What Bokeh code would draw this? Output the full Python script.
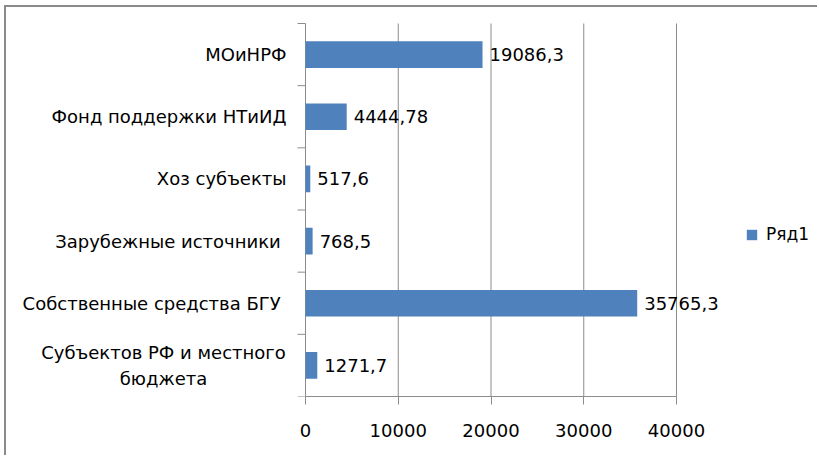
import math
from bokeh.plotting import figure
from bokeh.models import (ColumnDataSource, LabelSet, Label, Legend, LegendItem,
                          FixedTicker, Range1d)
from bokeh.core.properties import value
from bokeh.embed import file_html
from bokeh.resources import INLINE

# categories listed from bottom to top
categories = ["Субъектов РФ и местного\nбюджета", "Собственные средства  БГУ",
              "Зарубежные источники ", "Хоз субъекты", "Фонд поддержки НТиИД", "МОиНРФ"]
values = [1271.7, 35765.3, 768.5, 517.6, 4444.78, 19086.3]
x_ticks = [0, 10000, 20000, 30000, 40000]
series_name = "Ряд1"

FONT = "DejaVu Sans"
GRAY = "#8c8c8c"
BAR = "#4F81BD"

n = len(categories)
y_centers = [i + 0.5 for i in range(n)]
boundaries = list(range(n + 1))

# layout geometry (screen pixels inside the canvas)
W, H = 813, 450
axis_left_px = 299          # where x = 0 sits
axis_right_px = 670         # where x = 40000 sits
plot_top_px = 16            # top of the category band
frame_h = 389               # frame bottom = x axis position
xmax = x_ticks[-1]
ppx = (axis_right_px - axis_left_px) / xmax
x_start = -axis_left_px / ppx
x_end = (W - axis_left_px) / ppx
ppy = (frame_h - plot_top_px) / n
y_end = n + plot_top_px / ppy

p = figure(width=W, height=H, output_backend="svg", toolbar_location=None,
           x_range=Range1d(x_start, x_end), y_range=Range1d(0, y_end),
           y_axis_type=None, min_border_left=0, min_border_right=0,
           min_border_top=0, min_border_bottom=H - frame_h)
p.outline_line_color = None
p.background_fill_color = "white"
p.border_fill_color = "white"
p.xgrid.grid_line_color = None
p.ygrid.grid_line_color = None
# chart border (left and top) drawn round the canvas
p.styles = {"border-left": "2px solid #8a8a8a", "border-top": "2px solid #8a8a8a",
            "margin-left": "4px", "margin-top": "5px"}

# vertical grid lines
p.segment(x0=x_ticks[1:], y0=0, x1=x_ticks[1:], y1=n, line_color=GRAY, line_width=1)
# category axis line and boundary ticks
p.segment(x0=0, y0=0, x1=0, y1=n, line_color=GRAY, line_width=1)
p.ray(x=0, y=boundaries, length=8, length_units="screen", angle=math.pi,
      line_color=GRAY, line_width=1)

src = ColumnDataSource(dict(y=y_centers, v=values,
                            vt=[str(v).replace(".", ",") for v in values]))
bars = p.hbar(y="y", left=0, right="v", height=0.43, source=src,
              fill_color=BAR, line_color=None)

# x axis
xa = p.xaxis[0]
xa.bounds = (0, xmax)
xa.ticker = FixedTicker(ticks=x_ticks)
xa.axis_line_color = GRAY
xa.major_tick_line_color = GRAY
xa.major_tick_out = 8
xa.major_tick_in = 0
xa.minor_tick_line_color = None
xa.major_label_text_font = FONT
xa.major_label_text_font_size = "18px"
xa.major_label_text_color = "black"
xa.major_label_standoff = 19

# value labels
p.add_layout(LabelSet(x="v", y="y", text="vt", source=src, x_offset=7, y_offset=0,
                      text_font=value(FONT), text_font_size=value("18px"),
                      text_color="black", text_baseline="middle", text_align="left"))

# category labels
single = [(c, y) for c, y in zip(categories, y_centers) if "\n" not in c]
multi = [(c, y) for c, y in zip(categories, y_centers) if "\n" in c]
csrc = ColumnDataSource(dict(t=[c for c, _ in single], y=[y for _, y in single],
                             x=[0] * len(single)))
p.add_layout(LabelSet(x="x", y="y", text="t", source=csrc, x_offset=-19,
                      text_font=value(FONT), text_font_size=value("18px"),
                      text_color="black", text_baseline="middle", text_align="right"))
for c, y in multi:
    p.add_layout(Label(x=0, y=y, text=c, x_offset=-142, text_font=FONT,
                       text_font_size="18px", text_color="black",
                       text_baseline="middle", text_align="center",
                       text_line_height=1.25))

legend = Legend(items=[LegendItem(label=series_name, renderers=[bars])],
                location=(739, 152), padding=0, margin=0, border_line_color=None,
                background_fill_alpha=0, glyph_width=13, glyph_height=13,
                label_standoff=8, label_text_font=FONT, label_text_font_size="17px",
                label_text_color="black")
p.add_layout(legend, "center")

open("out.html", "w").write(file_html(p, INLINE))
